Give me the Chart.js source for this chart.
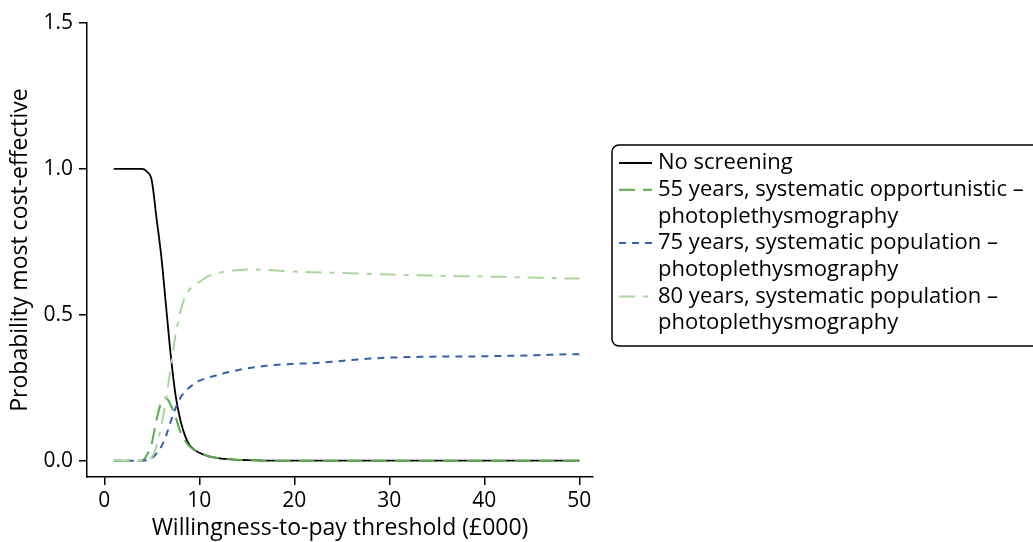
<!DOCTYPE html>
<html>
<head>
<meta charset="utf-8">
<script src="https://cdn.jsdelivr.net/npm/chart.js@4.4.1/dist/chart.umd.min.js"></script>
<style>
  html, body { margin: 0; padding: 0; background: #ffffff; }
  #wrap { width: 1033px; height: 542px; }
</style>
</head>
<body>
<div id="wrap"><canvas id="c" width="1033" height="542"></canvas></div>
<script>
// Willingness-to-pay thresholds (£000)
const thresholds = [1, 2, 3, 3.5, 4, 4.5, 5, 5.5, 6, 6.5, 7, 7.5, 8, 8.5, 9, 9.5, 10,
  11, 12, 13, 14, 15, 16, 17, 18, 19, 20,
  22, 24, 26, 28, 30, 32, 34, 36, 38, 40, 42, 44, 46, 48, 50];

// Probability each strategy is most cost-effective
const noScreening = [1, 1, 1, 1, 1, 0.99, 0.96, 0.83, 0.70, 0.53, 0.36, 0.225, 0.14, 0.085, 0.052, 0.037, 0.027,
  0.015, 0.009, 0.005, 0.003, 0.002, 0.001, 0, 0, 0, 0,
  0, 0, 0, 0, 0, 0, 0, 0, 0, 0, 0, 0, 0, 0, 0];
const age55Opportunistic = [0, 0, 0, 0, 0, 0.02, 0.06, 0.14, 0.20, 0.215, 0.19, 0.15, 0.10, 0.068, 0.048, 0.036, 0.027,
  0.015, 0.009, 0.005, 0.003, 0.002, 0.001, 0, 0, 0, 0,
  0, 0, 0, 0, 0, 0, 0, 0, 0, 0, 0, 0, 0, 0, 0];
const age75Population = [0, 0, 0, 0, 0, 0.002, 0.008, 0.025, 0.048, 0.085, 0.135, 0.18, 0.215, 0.237, 0.252, 0.264, 0.274,
  0.285, 0.294, 0.303, 0.310, 0.316, 0.321, 0.325, 0.328, 0.330, 0.332,
  0.334, 0.339, 0.345, 0.350, 0.353, 0.355, 0.356, 0.357, 0.357, 0.358, 0.359, 0.360, 0.362, 0.364, 0.365];
const age80Population = [0, 0, 0, 0, 0, 0.003, 0.012, 0.05, 0.12, 0.21, 0.32, 0.43, 0.51, 0.56, 0.588, 0.602, 0.613,
  0.633, 0.643, 0.650, 0.653, 0.655, 0.655, 0.654, 0.652, 0.650, 0.648,
  0.646, 0.644, 0.642, 0.640, 0.638, 0.636, 0.635, 0.633, 0.632, 0.631, 0.630, 0.628, 0.627, 0.625, 0.624];

const seriesNames = [
  ['No screening'],
  ['55 years, systematic opportunistic –', 'photoplethysmography'],
  ['75 years, systematic population –', 'photoplethysmography'],
  ['80 years, systematic population –', 'photoplethysmography']
];

const xTicks = [0, 10, 20, 30, 40, 50];
const yTicks = [0, 0.5, 1.0, 1.5];

const FONT = '"Open Sans", "Noto Sans", "DejaVu Sans", sans-serif';

function pts(values) {
  return thresholds.map((t, i) => ({ x: t, y: values[i] }));
}

// Legend box with wrapped entries, drawn on the right of the plot
const sideLegend = {
  id: 'sideLegend',
  afterDraw(chart) {
    const ctx = chart.ctx;
    const left = 612, top = 145, bottom = 346, right = 1045, r = 7;
    ctx.save();
    ctx.lineWidth = 1.5;
    ctx.strokeStyle = '#000';
    ctx.beginPath();
    ctx.moveTo(left + r, top);
    ctx.lineTo(right - r, top);
    ctx.arcTo(right, top, right, top + r, r);
    ctx.lineTo(right, bottom - r);
    ctx.arcTo(right, bottom, right - r, bottom, r);
    ctx.lineTo(left + r, bottom);
    ctx.arcTo(left, bottom, left, bottom - r, r);
    ctx.lineTo(left, top + r);
    ctx.arcTo(left, top, left + r, top, r);
    ctx.closePath();
    ctx.fillStyle = '#fff';
    ctx.fill();
    ctx.stroke();

    const rowH = 26.7;
    let y = 163;
    ctx.font = '22px ' + FONT;
    ctx.textBaseline = 'middle';
    ctx.textAlign = 'left';
    chart.data.datasets.forEach((ds, i) => {
      ctx.save();
      ctx.strokeStyle = ds.borderColor;
      ctx.lineWidth = ds.borderWidth;
      ctx.setLineDash(ds.borderDash || []);
      ctx.beginPath();
      ctx.moveTo(619, y);
      ctx.lineTo(652, y);
      ctx.stroke();
      ctx.restore();
      ctx.fillStyle = '#000';
      seriesNames[i].forEach(line => {
        ctx.fillText(line, 658, y);
        y += rowH;
      });
    });
    ctx.restore();
  }
};

new Chart(document.getElementById('c'), {
  type: 'line',
  data: {
    datasets: [
      { label: seriesNames[0].join(' '), data: pts(noScreening), borderColor: '#000000', borderWidth: 1.8, borderDash: [], order: 4 },
      { label: seriesNames[1].join(' '), data: pts(age55Opportunistic), borderColor: '#58ae45', borderWidth: 2, borderDash: [16, 8], order: 3 },
      { label: seriesNames[2].join(' '), data: pts(age75Population), borderColor: '#3061b6', borderWidth: 2, borderDash: [7, 6], order: 2 },
      { label: seriesNames[3].join(' '), data: pts(age80Population), borderColor: '#a7d79b', borderWidth: 2, borderDash: [16, 8, 5, 8], order: 1 }
    ]
  },
  options: {
    responsive: false,
    animation: false,
    parsing: false,
    elements: {
      point: { radius: 0 },
      line: { cubicInterpolationMode: 'monotone', fill: false }
    },
    layout: { padding: { top: 23, right: 440, left: 0, bottom: 0 } },
    plugins: { legend: { display: false }, tooltip: { enabled: false } },
    scales: {
      x: {
        type: 'linear',
        min: -1.82,
        max: 51.44,
        afterBuildTicks: s => { s.ticks = xTicks.map(v => ({ value: v })); },
        afterFit: s => { s.height = 65; },
        grid: { display: true, drawOnChartArea: false, drawTicks: true, tickLength: 8, color: '#000', lineWidth: 1.5 },
        border: { display: true, color: '#000', width: 1.5 },
        ticks: { color: '#000', padding: 3, maxRotation: 0, font: { family: FONT, size: 21 }, callback: v => String(v) },
        title: { display: true, text: 'Willingness-to-pay threshold (£000)', color: '#000', padding: { top: 0, bottom: 0 }, font: { family: FONT, size: 23 } }
      },
      y: {
        type: 'linear',
        min: -0.056,
        max: 1.5,
        afterBuildTicks: s => { s.ticks = yTicks.map(v => ({ value: v })); },
        afterFit: s => { s.width = 87; },
        grid: { display: true, drawOnChartArea: false, drawTicks: true, tickLength: 8, color: '#000', lineWidth: 1.5 },
        border: { display: true, color: '#000', width: 1.5 },
        ticks: { color: '#000', padding: 6, font: { family: FONT, size: 21 }, callback: v => Number(v).toFixed(1) },
        title: { display: true, text: 'Probability most cost-effective', color: '#000', padding: { top: 7, bottom: 0 }, font: { family: FONT, size: 23 } }
      }
    }
  },
  plugins: [sideLegend]
});
</script>
</body>
</html>
